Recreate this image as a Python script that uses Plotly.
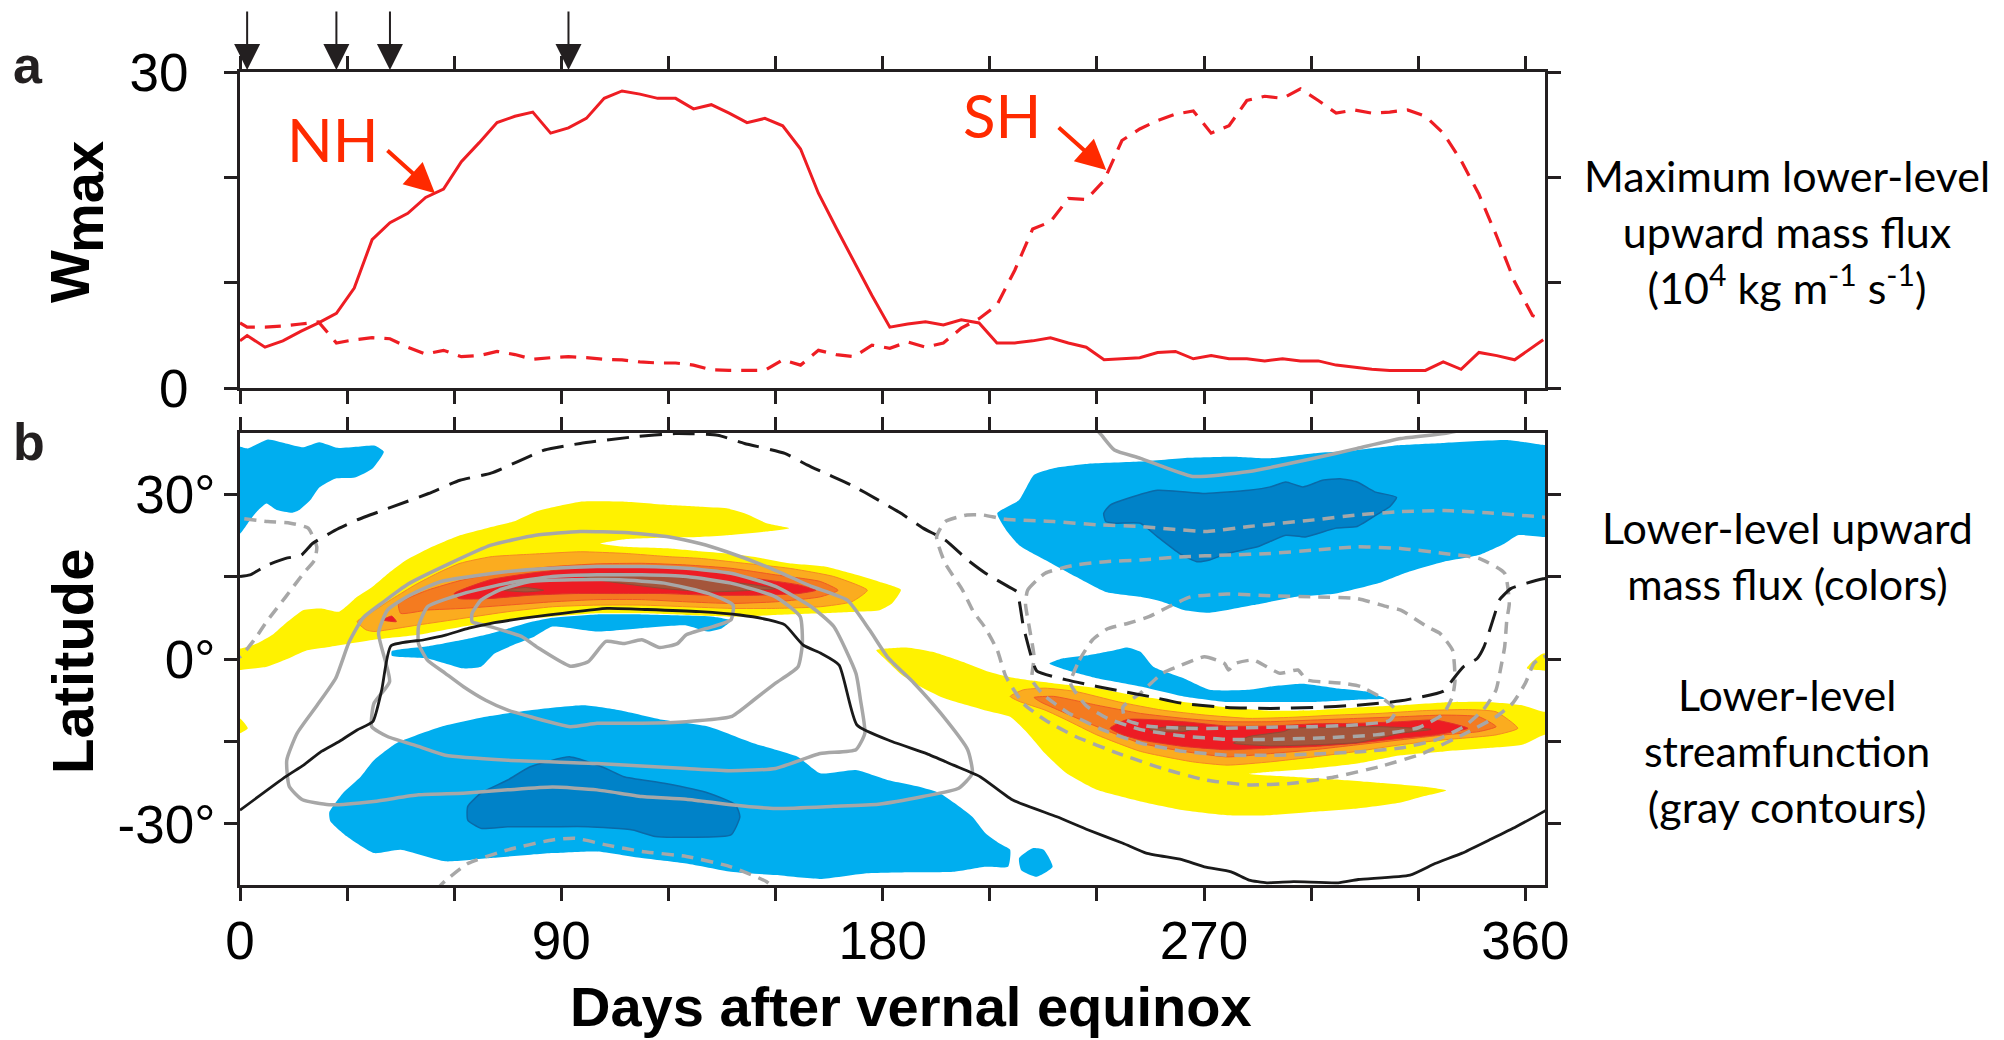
import plotly.graph_objects as go

# ---------------- Panel a: pentad W_max series ----------------
DAYS = [0, 2, 7, 12, 17, 22, 27, 32, 37, 42, 47, 52, 57, 62, 67, 72, 77, 82, 87, 92, 97,
        102, 107, 112, 117, 122, 127, 132, 137, 142, 147, 152, 157, 162, 167, 172, 177,
        182, 187, 192, 197, 202, 207, 212, 217, 222, 227, 232, 237, 242, 247, 252, 257,
        262, 267, 272, 277, 282, 287, 292, 297, 302, 307, 312, 317, 322, 327, 332, 337,
        342, 347, 352, 357, 362, 365]

NH_WMAX = [4.5, 5.0, 3.9, 4.5, 5.4, 6.2, 7.1, 9.5, 14.1, 15.7, 16.6,
           18.1, 18.9, 21.5, 23.3, 25.2, 25.8, 26.2, 24.2, 24.7, 25.6,
           27.5, 28.2, 27.9, 27.5, 27.5, 26.5, 26.9, 26.1, 25.2, 25.6,
           24.9, 22.7, 18.5, 15.2, 12.0, 8.8, 5.8, 6.1, 6.3, 6.0,
           6.5, 6.2, 4.3, 4.3, 4.5, 4.8, 4.3, 3.9, 2.7, 2.8,
           2.9, 3.4, 3.5, 2.8, 3.1, 2.8, 2.8, 2.6, 2.8, 2.6,
           2.6, 2.2, 2.0, 1.8, 1.7, 1.7, 1.7, 2.5, 1.8, 3.4,
           3.1, 2.7, 3.9, 4.6]

SH_WMAX = [6.2, 5.8, 5.8, 5.9, 6.1, 6.3, 4.3, 4.6, 4.8, 4.7, 3.9,
           3.25, 3.6, 3.0, 3.1, 3.5, 3.2, 2.75, 2.9, 3.0, 2.9,
           2.75, 2.7, 2.5, 2.4, 2.4, 2.2, 1.75, 1.7, 1.7, 1.7,
           2.7, 2.2, 3.6, 3.2, 3.0, 4.1, 3.8, 4.4, 3.9, 4.3,
           5.7, 6.6, 7.9, 11.2, 15.1, 15.8, 18.0, 17.9, 19.7, 23.5,
           24.6, 25.4, 26.0, 26.3, 24.2, 24.9, 27.3, 27.7, 27.5, 28.4,
           27.3, 26.1, 26.4, 26.1, 26.2, 26.4, 25.8, 24.2, 21.6, 18.4,
           14.4, 10.1, 6.9, 6.5]

ARROW_DAYS = [2, 27, 42, 92]

X_TICKS = [0, 30, 60, 90, 120, 150, 180, 210, 240, 270, 300, 330, 360]
X_TICKTEXT = ['0', '', '', '90', '', '', '180', '', '', '270', '', '', '360']
YA_TICKS = [0, 10, 20, 30]
YA_TICKTEXT = ['0', '', '', '30']
YB_TICKS = [-30, -15, 0, 15, 30]
YB_TICKTEXT = ['-30°', '', '0°', '', '30°']

# ---------------- Panel b: contour regions (day, latitude) ----------------
LIGHT_BLUE = [
    [(-2, 38.6), (0, 38.6), (2.2, 38.3), (7.8, 39.9), (12.8, 39.2), (17.8, 38.5), (22.2, 39.4),
     (27.2, 38.4), (32.8, 38.6), (37.8, 38.8), (40.3, 37.7), (37.2, 34.7), (32.2, 33.0),
     (26.6, 32.8), (22.2, 31.2), (19.7, 28.9), (16.6, 27.1), (14.7, 26.6), (10.3, 27.1),
     (7.4, 28.3), (4.7, 26.8), (2.2, 24.7), (0, 22.8), (-2, 22.8)],
    [(212.1, 26.5), (218.2, 28.9), (222.4, 33.5), (227.9, 34.7), (237.6, 35.5), (252.2, 35.9),
     (265.8, 36.6), (278.3, 36.8), (288.6, 36.5), (300.8, 37.4), (312.9, 38.0), (325.1, 38.9),
     (337.2, 39.3), (355.4, 39.8), (365.2, 38.9), (368, 38.9), (368, 22.2), (365.2, 22.2),
     (357.9, 22.5), (354.2, 21.0), (347.0, 18.9), (337.2, 17.7), (327.5, 15.9), (319.0, 13.8),
     (306.9, 11.9), (295.9, 11.3), (283.8, 9.8), (271.6, 8.4), (264.3, 8.9), (258.3, 10.4),
     (252.2, 11.3), (242.5, 12.2), (234.0, 15.0), (225.5, 18.0), (218.2, 20.7), (214.5, 23.5)],
    [(42.5, 1.4), (52.5, 2.3), (62.5, 3.5), (70, 4.6), (75, 5.5), (82, 6.8), (87.5, 7.5),
     (100, 8.1), (112.5, 8.1), (125, 7.9), (132.5, 7.7), (137.5, 7.0), (135, 5.6), (131, 5.0),
     (125, 6.1), (112.5, 5.6), (100, 5.0), (87.5, 5.9), (82.5, 4.1), (77.5, 2.8), (71.3, 1.0),
     (67.5, -1.4), (62.5, -1.7), (57.5, -0.8), (52.5, 0.1), (42.5, 0.6)],
    [(25, -27.9), (28.8, -24.4), (33.8, -21.4), (37.5, -18.4), (43.8, -15.3), (56.3, -12.3),
     (68.8, -10.5), (81.3, -9.3), (96.3, -8.4), (106.3, -9.3), (118.8, -11.1), (131.3, -12.3),
     (143.8, -15.3), (150, -16.5), (156.3, -17.8), (162.5, -20.8), (172.5, -20.2),
     (181.3, -22.0), (190, -23.2), (196, -24.4), (200.1, -26.2), (205.1, -28.7),
     (208.8, -31.7), (212.6, -33.5), (215.7, -34.7), (215.1, -37.8), (208.8, -37.8),
     (200.1, -38.7), (188, -38.8), (175, -39.0), (162.5, -40.0), (150, -39.3), (137.5, -38.7),
     (125, -37.2), (112.5, -36.2), (100, -35.0), (87.5, -35.3), (70, -36.2), (57.5, -36.8),
     (45, -34.7), (37.5, -35.3), (30, -32.3), (25.3, -29.5)],
    [(218.2, -36.2), (222, -34.4), (225.1, -34.7), (227.6, -37.8), (223.2, -39.6), (218.8, -38.4)],
    [(226.7, -0.8), (230.3, 0.1), (237.6, 0.7), (244.9, 1.6), (248.5, 2.1), (252.2, 1.3),
     (255.8, -1.4), (264.3, -3.5), (271.6, -5.6), (282.6, -5.6), (288.6, -5.0), (297.7, -4.5),
     (306.9, -5.3), (315.4, -5.9), (320.8, -7.2), (312.9, -7.4), (300.8, -7.8), (288.6, -7.8),
     (276.5, -7.8), (264.3, -6.8), (252.2, -5.0), (240.0, -3.5), (231.5, -2.0)],
]

DARK_BLUE = [
    [(63.8, -26.8), (67.5, -24.4), (75, -22.0), (81.3, -19.6), (92.5, -17.8), (102.5, -19.9),
     (107.5, -21.4), (118.8, -22.6), (131.3, -24.4), (138.8, -26.5), (140, -28.7),
     (137.5, -32.0), (125, -32.4), (116.3, -32.3), (110, -31.1), (97.5, -30.5), (87.5, -30.5),
     (75, -30.5), (67.5, -30.8), (63.8, -29.3)],
    [(241.9, 26.5), (243.7, 28.0), (248.5, 29.2), (257.0, 30.7), (270.4, 30.1), (282.6, 30.7),
     (288.6, 31.3), (292.9, 32.2), (297.7, 31.3), (303.2, 32.5), (308.1, 32.8), (312.9, 32.2),
     (317.8, 30.4), (323.9, 29.4), (322.0, 27.7), (319.0, 26.5), (312.9, 24.1), (306.9, 23.8),
     (298.4, 22.2), (292.9, 22.5), (285.0, 20.4), (276.5, 19.2), (271.6, 18.0), (268.0, 17.7),
     (263.1, 19.2), (257.0, 22.2), (252.2, 24.7), (244.9, 24.7), (242.5, 25.0)],
]

YELLOW = [
    [(-2, 1.9), (0, 1.9), (4.7, 2.8), (9.1, 4.4), (12.8, 6.5), (17.8, 8.9), (22.8, 9.2),
     (27.8, 8.6), (32.8, 11.3), (37.2, 13.2), (41.6, 15.6), (46.6, 18.0), (52.8, 20.1),
     (61.6, 22.5), (69.1, 23.8), (76.6, 25.0), (82.8, 26.8), (95.3, 28.6), (107.8, 28.6),
     (120.3, 28.0), (128.8, 27.7), (136.3, 27.4), (142.5, 26.2), (147.5, 24.7), (153.8, 23.8),
     (147.5, 23.2), (136.3, 22.5), (128.8, 22.2), (120.3, 22.1), (107.8, 21.8), (100.9, 21.0),
     (107.8, 20.4), (120.3, 20.1), (128.8, 19.6), (136.3, 19.2), (143.8, 18.6), (153.8, 17.4),
     (163.8, 16.8), (172.6, 15.3), (178.8, 14.1), (185.1, 12.6), (182.6, 10.1), (178.8, 8.8),
     (172.5, 8.6), (162.5, 8.3), (150, 8.0), (137.5, 7.7), (125, 8.0), (112.5, 8.3),
     (100, 8.3), (87.5, 7.7), (75, 7.1), (62.5, 5.9), (50, 4.4), (37.5, 3.5), (25, 2.2),
     (18.8, 1.6), (12.5, -0.2), (7.5, -1.4), (0, -2.0), (-2, -2.0)],
    [(178.2, 1.6), (179.3, 1.8), (186.6, 2.1), (193.9, 1.3), (203.6, -0.8), (209.7, -2.3),
     (215.7, -3.3), (221.8, -3.9), (231.5, -4.7), (240.0, -5.3), (252.2, -6.8), (264.3, -7.8),
     (276.5, -8.8), (288.6, -9.4), (300.8, -9.3), (312.9, -8.8), (325.1, -8.4), (337.2, -7.9),
     (349.4, -7.8), (359.1, -8.4), (365.2, -9.6), (368, -9.6), (368, -13.8), (365.2, -13.8),
     (359.1, -15.6), (349.4, -16.2), (337.2, -16.8), (325.1, -17.5), (312.9, -19.0),
     (300.8, -19.9), (288.6, -20.5), (282.6, -20.9), (294.7, -21.4), (306.9, -21.9),
     (319.0, -22.5), (331.2, -23.2), (337.8, -23.9), (331.2, -25.0), (325.1, -26.1),
     (312.9, -27.2), (300.8, -27.8), (288.6, -28.4), (276.5, -28.4), (264.3, -27.5),
     (252.2, -25.9), (240.0, -23.8), (231.5, -20.8), (225.5, -17.2), (220.6, -13.5),
     (215.7, -10.5), (208.5, -9.3), (197.5, -7.2), (191.4, -5.3), (185.4, -2.9), (180.5, 0.1)],
    [(-2, -10.8), (0, -10.8), (2.2, -12.6), (0, -13.5), (-2, -13.5)],
    [(368, 1.0), (364.9, 1.0), (362.4, -0.2), (360.4, -1.7), (364.9, -2.1), (368, -2.1)],
]

LIGHT_ORANGE = [
    [(32.8, 6.8), (37.8, 8.9), (42.8, 11.0), (49.1, 13.5), (55.3, 15.6), (61.6, 17.4),
     (70.3, 18.6), (82.8, 19.1), (95.3, 19.5), (107.8, 19.2), (120.3, 18.6), (128.8, 18.3),
     (141.3, 17.4), (153.8, 16.5), (166.3, 15.0), (175.7, 12.5), (171.3, 10.4), (162.5, 9.5),
     (150, 9.2), (137.5, 9.2), (125, 9.5), (112.5, 9.8), (100, 9.8), (87.5, 9.5), (75, 8.6),
     (62.5, 7.4), (50, 6.2), (37.5, 5.0), (35.3, 5.3)],
    [(215.7, -6.8), (219.4, -5.6), (225.5, -5.3), (234.0, -5.9), (246.1, -7.8), (258.3, -9.3),
     (270.4, -10.2), (282.6, -10.8), (294.7, -10.6), (306.9, -10.2), (319.0, -9.9),
     (331.2, -9.4), (343.3, -9.2), (351.8, -9.6), (357.9, -12.6), (351.8, -13.8),
     (337.2, -14.7), (325.1, -15.6), (312.9, -16.8), (300.8, -17.8), (288.6, -18.7),
     (276.5, -19.3), (266.8, -18.7), (252.2, -16.8), (240.0, -13.8), (231.5, -11.1),
     (225.5, -9.3), (218.2, -7.7)],
]

ORANGE = [
    [(44.4, 10.1), (52.5, 12.5), (62.5, 14.4), (75, 15.9), (87.5, 16.8), (100, 17.3),
     (112.5, 17.4), (125, 17.1), (137.5, 16.5), (150, 15.3), (162.5, 14.1), (167.5, 12.5),
     (162.5, 11.3), (150, 10.4), (137.5, 10.1), (125, 10.4), (112.5, 10.8), (100, 10.8),
     (87.5, 10.4), (75, 9.8), (62.5, 9.2), (52.5, 8.9), (45, 8.3)],
    [(222.4, -7.0), (227.9, -6.8), (240.0, -8.4), (252.2, -9.9), (264.3, -10.8), (276.5, -11.4),
     (288.6, -11.4), (300.8, -11.1), (312.9, -10.8), (325.1, -10.5), (337.2, -10.2),
     (347.0, -10.5), (351.8, -12.3), (347.0, -13.2), (337.2, -13.8), (325.1, -14.7),
     (312.9, -15.6), (300.8, -16.5), (288.6, -17.2), (276.5, -17.8), (264.3, -16.8),
     (252.2, -15.3), (240.0, -12.3), (230.3, -9.6), (224.2, -7.8)],
]

RED = [
    [(60, 11.9), (70, 14.4), (81.3, 15.6), (93.8, 16.5), (106.3, 16.8), (118.8, 16.5),
     (131.3, 15.9), (143.8, 14.7), (156.3, 13.5), (161.3, 12.5), (156.3, 11.9), (143.8, 11.6),
     (131.3, 11.6), (118.8, 11.9), (106.3, 11.9), (93.8, 11.9), (81.3, 11.6), (70, 11.0),
     (61.3, 11.0)],
    [(40, 7.1), (42.5, 7.8), (43.8, 6.8)],
    [(243.7, -12.6), (248.5, -11.0), (264.3, -11.4), (276.5, -12.2), (288.6, -12.2),
     (300.8, -11.8), (312.9, -11.7), (325.1, -11.4), (334.8, -11.1), (343.9, -12.6),
     (334.8, -13.8), (325.1, -14.4), (312.9, -15.3), (300.8, -15.9), (288.6, -16.2),
     (276.5, -16.5), (264.3, -15.9), (252.2, -14.7), (247.3, -13.8)],
]

BROWN = [
    [(95, 15.3), (106.3, 15.6), (118.8, 15.0), (131.3, 14.4), (143.8, 13.5), (150, 12.8),
     (143.8, 12.5), (131.3, 12.2), (118.8, 12.8), (106.3, 13.8), (97.5, 14.7)],
    [(73.8, 12.5), (80, 13.0), (85, 12.5), (80, 12.2)],
    [(278.3, -15.3), (282.6, -14.1), (292.3, -13.2), (294.7, -12.6), (306.9, -12.4),
     (319.0, -12.3), (333.6, -12.8), (325.1, -13.5), (319.0, -14.4), (312.9, -15.2),
     (300.8, -15.6), (288.6, -15.8)],
    [(254.6, -12.8), (261.9, -12.2), (268.6, -12.4), (264.3, -13.2), (257.0, -13.2)],
]

# ---------------- Panel b: contour lines (day, latitude) ----------------
BLACK_SOLID = [(0, -27.5), (12.8, -21.4), (17.8, -19.3), (22.8, -16.8), (27.8, -15.0),
               (32.8, -12.9), (37.2, -11.4), (39.7, -5.6), (42.3, 2.4), (51.6, 3.5), (57.8, 4.4),
               (64.1, 5.6), (70.3, 6.5), (82.8, 7.7), (90.3, 8.3), (102.8, 9.2), (114.0, 9.0),
               (128.8, 8.6), (140, 8.0), (148.1, 7.1), (152.6, 6.2), (157.8, 2.5), (162.8, 1.0),
               (167.8, -1.1), (172.8, -12.0), (182.6, -15.0), (192.3, -17.2), (199.8, -19.3),
               (207.3, -21.4), (216.3, -25.6), (228.8, -28.7), (237.6, -31.1), (247.3, -33.5),
               (253.8, -35.3), (263.8, -36.5), (270.1, -37.8), (277.6, -38.7), (282.6, -40.2),
               (287.6, -40.7), (295.1, -40.5), (307.6, -40.7), (313.2, -40.1), (327.7, -39.3),
               (334.7, -37.2), (342.3, -35.3), (349.9, -32.9), (357.4, -30.5), (365, -27.8),
               (367, -27.0)]

BLACK_DASHED = [(0, 15.0), (2.8, 15.3), (7.8, 17.1), (12.8, 18.3), (17.2, 18.9), (20.3, 21.0),
                (27.8, 23.8), (32.8, 25.3), (42.8, 27.7), (52.8, 30.1), (61.6, 32.5),
                (70.3, 33.8), (77.8, 35.9), (85.3, 38.0), (95.3, 39.2), (110.3, 40.4),
                (122, 41.0), (133.8, 40.7), (141.3, 39.2), (152.6, 37.4), (158.8, 35.3),
                (163.8, 33.8), (171.3, 31.6), (178.8, 28.9), (185.1, 26.5), (191.3, 23.8),
                (197.6, 21.6), (203.8, 18.0), (208.8, 15.6), (215.1, 13.2), (217.6, 12.2),
                (219.4, 5.9), (221.9, -0.2), (223.2, -2.2), (231.5, -3.8), (240.0, -5.0),
                (247.3, -5.9), (254.6, -6.8), (264.3, -8.1), (276.5, -8.8), (288.6, -9.0),
                (300.8, -8.8), (312.9, -8.4), (325.1, -7.6), (337.2, -5.8), (339.6, -3.8),
                (342.7, -1.4), (346.5, 0.1), (348.4, 2.2), (351.5, 8.3), (352.7, 10.7),
                (355.9, 12.8), (360.4, 13.8), (365, 14.6), (367, 14.8)]

GRAY_SOLID = [
    [(65, 6.8), (70, 5.9), (78.8, 4.1), (83.8, 1.9), (92.5, -1.3), (97.5, -0.5), (102.5, 3.2),
     (107.5, 2.8), (112.5, 3.5), (117.5, 2.1), (122.5, 2.8), (125, 4.4), (132.5, 5.9),
     (137.5, 7.1), (138.1, 9.8), (131.3, 11.9), (118.8, 13.8), (106.3, 14.4), (93.8, 14.4),
     (81.3, 14.1), (72.5, 12.5), (67.5, 10.7), (65, 8.3), (65, 6.8)],
    [(52.5, 9.5), (62.5, 11.9), (75, 13.8), (87.5, 15.0), (100, 15.3), (112.5, 15.3),
     (125, 15.0), (137.5, 13.8), (150, 11.3), (156.9, 7.7), (157.5, 2.8), (156.3, -1.4),
     (150, -4.4), (143.8, -7.5), (137.5, -10.5), (125, -11.4), (112.5, -11.7), (100, -11.7),
     (92.5, -12.3), (81.3, -10.5), (75, -9.3), (68.8, -7.5), (62.5, -5.0), (57.5, -2.6),
     (52.5, -0.2), (50, 2.8), (50, 5.9), (52.5, 9.5)],
    [(36.9, -12.3), (41.3, -14.1), (50, -15.9), (57.5, -17.5), (75, -18.4), (100, -19.0),
     (125, -19.9), (137.5, -20.3), (150, -19.9), (162.5, -17.2), (172.5, -16.5), (175, -13.5),
     (173.8, -7.5), (172.5, -2.6), (166.3, 5.9), (160, 9.5), (150, 13.2), (137.5, 15.6),
     (125, 16.5), (112.5, 16.8), (100, 16.8), (87.5, 16.5), (75, 15.9), (56.3, 14.1),
     (47.5, 11.6), (41.3, 8.9), (38.8, 4.7), (41.9, -4.1), (37.5, -8.1), (36.9, -12.3)],
    [(128.8, 21.0), (136.3, 19.5), (147.5, 16.8), (160.1, 13.2), (170.1, 10.7), (176.3, 5.3),
     (181.3, 0.4), (188.8, -4.4), (196.3, -9.9), (203.8, -16.5), (205.1, -20.8),
     (201.3, -23.5), (191.3, -25.0), (178.8, -26.4), (166.3, -26.8), (150, -27.2),
     (137.5, -26.5), (125, -25.5), (112.5, -25.0), (100, -23.8), (87.5, -23.3), (75, -23.8),
     (62.5, -24.4), (50, -24.7), (37.5, -25.9), (25, -26.5), (17.5, -25.6), (13.8, -23.2),
     (13.1, -18.4), (16, -13.5), (21.5, -8.5), (26.8, -3.5), (30.5, 3.0), (34.5, 7.5),
     (40, 10.3), (47, 13.6), (58.5, 17.3), (70.3, 20.7), (82.8, 22.5), (95.3, 23.2),
     (107.8, 23.0), (120.3, 22.2), (128.8, 21.0)],
    [(239.5, 42), (241.3, 40.7), (244.9, 38.0), (252.2, 36.5), (266.8, 33.2), (282.6, 34.1),
     (300.8, 36.5), (312.9, 38.3), (325.1, 40.1), (337.2, 41.0), (345, 42)],
]

GRAY_DASHED = [
    [(368, 25.7), (365.2, 25.8), (349.4, 26.6), (337.2, 27.0), (325.1, 26.8), (312.9, 26.2),
     (300.8, 25.3), (282.6, 24.1), (270.4, 23.2), (252.2, 24.1), (240.0, 24.4), (227.9, 25.0),
     (214.5, 25.4), (208, 26.2), (203.6, 26.2), (197.5, 25.0), (195.1, 22.2), (197.5, 17.4),
     (202.4, 12.5), (205.5, 8.5), (208.5, 5.9), (212.1, 1.6), (214.5, -3.2), (219.4, -8.1),
     (225.5, -11.1), (234.0, -14.1), (246.1, -17.2), (258.3, -19.9), (270.4, -22.0),
     (282.6, -22.9), (294.7, -22.6), (306.9, -21.4), (319.0, -19.6), (331.2, -17.2),
     (343.3, -13.5), (351.8, -10.5), (356.5, -8.0), (360, -4.4), (362.4, -0.8), (365, 0.4),
     (368, 0.5)],
    [(-3, 0.3), (0, 0.4), (4.0, 3.5), (7.8, 7.1), (12.8, 11.3), (17.8, 15.6), (20.9, 18.0),
     (21.5, 20.4), (19.1, 23.8), (14.1, 24.7), (7.8, 25.0), (0, 25.6), (-3, 25.7)],
    [(220, 10), (220.6, 12.5), (225.5, 15.6), (234.0, 17.1), (242.5, 17.7), (252.2, 18.0),
     (264.3, 18.6), (276.5, 18.9), (288.6, 19.2), (300.8, 19.8), (312.9, 20.4), (325.1, 20.1),
     (337.2, 19.2), (347.0, 18.3), (354.2, 15.6), (355.5, 10.1), (354.8, 7.1), (354.2, 2.2),
     (353.0, -2.0), (351.8, -5.6), (348.5, -9.0), (343, -12.2), (335, -14.7), (325, -16.2),
     (312.9, -16.9), (300.8, -17.3), (288.6, -17.5), (276.5, -17.5), (264.3, -16.8),
     (252.2, -15.3), (242, -13.0), (232, -9.8), (225, -6.5), (221.8, -3.8), (222.4, 0.4),
     (221, 6), (220, 10)],
    [(232.6, -4.4), (235.1, -0.2), (238.8, 3.5), (243, 5.5), (248.8, 6.5), (254.6, 7.7),
     (260.1, 9.5), (266.3, 11.3), (276.5, 11.8), (288.6, 11.5), (300.8, 11.3), (312.9, 11.0),
     (321.3, 9.5), (325.1, 8.9), (332.4, 5.9), (336, 4.7), (339.6, 1.6), (340.3, -3.8),
     (339.6, -6.8), (337, -10.0), (330, -12.5), (318, -13.8), (305, -14.3), (290, -14.6),
     (276, -14.6), (264, -14.0), (252, -12.8), (243, -10.8), (237, -8.5), (232.6, -4.4)],
    [(262.6, -1.4), (270.1, 0.4), (275.7, -0.8), (276.9, -2.0), (278.8, -0.8), (283.8, -0.2),
     (291.3, -2.6), (296.3, -2.0), (298.8, -3.8), (308.8, -4.4), (313.8, -5.0), (320.1, -7.2),
     (323.8, -9.3), (322, -11.2), (312, -12.0), (300, -12.3), (288, -12.4), (276, -12.6),
     (264, -12.6), (254, -12.2), (248, -11.0), (247.3, -8.7), (252.2, -6.2), (258.3, -2.6),
     (262.6, -1.4)],
    [(55, -42), (56.9, -40.7), (63.8, -37.2), (75, -34.7), (87.5, -32.9), (93.8, -32.6),
     (102.5, -33.8), (112.5, -35.0), (125, -35.9), (137.5, -37.8), (147.5, -40.5), (150, -42)],
]

# ---------------- styling ----------------
W, H = 2004, 1040
PLOT_L, PLOT_R = 240, 1545
A_TOP, A_BOT = 72, 388.3
B_TOP, B_BOT = 433, 885


def px(xp):
    return xp / W


def py(yp):
    return 1 - yp / H


AXIS_COLOR = '#231f20'
RED_LINE = '#ee1d23'
RED_TEXT = '#ff2a00'
TICK_FONT = dict(family='Liberation Sans, Arial, sans-serif', size=53, color='black')
LABEL_FONT = 'Liberation Sans, Arial, sans-serif'
SIDE_FONT = 'Lato, Open Sans, sans-serif'

C_LBLUE = '#00aeef'
C_DBLUE = '#0082c8'
C_YELLOW = '#fff200'
C_LORANGE = '#fbac1f'
C_ORANGE = '#f47b20'
C_RED = '#ed1c24'
C_BROWN = '#a4553b'
C_GRAY = '#a7a7a7'

fig = go.Figure()

# Panel a lines
fig.add_trace(go.Scatter(x=DAYS, y=NH_WMAX, mode='lines', xaxis='x', yaxis='y',
                         line=dict(color=RED_LINE, width=3), hoverinfo='skip'))
fig.add_trace(go.Scatter(x=DAYS, y=SH_WMAX, mode='lines', xaxis='x', yaxis='y',
                         line=dict(color=RED_LINE, width=3.2, dash='16px,10px'),
                         hoverinfo='skip'))


def add_poly(pts, fill, edge=None, lw=0):
    xs = [p[0] for p in pts] + [pts[0][0]]
    ys = [p[1] for p in pts] + [pts[0][1]]
    fig.add_trace(go.Scatter(x=xs, y=ys, mode='lines', fill='toself', fillcolor=fill,
                             line=dict(color=edge or fill, width=lw, shape='spline',
                                       smoothing=0.5),
                             xaxis='x2', yaxis='y2', hoverinfo='skip'))


def add_line(pts, color, width, dash=None):
    fig.add_trace(go.Scatter(x=[p[0] for p in pts], y=[p[1] for p in pts], mode='lines',
                             line=dict(color=color, width=width, dash=dash, shape='spline',
                                       smoothing=0.5),
                             xaxis='x2', yaxis='y2', hoverinfo='skip'))


for poly in LIGHT_BLUE:
    add_poly(poly, C_LBLUE)
for poly in DARK_BLUE:
    add_poly(poly, C_DBLUE, '#0a6aa8', 1.5)
for poly in YELLOW:
    add_poly(poly, C_YELLOW)
for poly in LIGHT_ORANGE:
    add_poly(poly, C_LORANGE, '#f58a22', 1)
for poly in ORANGE:
    add_poly(poly, C_ORANGE, '#ef5a24', 1)
for poly in RED:
    add_poly(poly, C_RED, '#e0312a', 1)
for poly in BROWN:
    add_poly(poly, C_BROWN, '#8f4a35', 1)

for ln in GRAY_SOLID:
    add_line(ln, C_GRAY, 3.5)
for ln in GRAY_DASHED:
    add_line(ln, C_GRAY, 3.5, '12px,8px')
add_line(BLACK_SOLID, '#1a1a1a', 2.8)
add_line(BLACK_DASHED, '#1a1a1a', 3, '22px,11px')

axis_common = dict(showline=True, linewidth=3, linecolor=AXIS_COLOR, mirror='ticks',
                   ticks='outside', ticklen=13, tickwidth=3, tickcolor=AXIS_COLOR,
                   showgrid=False, zeroline=False, tickfont=TICK_FONT, automargin=False)

fig.update_layout(
    width=W, height=H, margin=dict(l=0, r=0, t=0, b=0, pad=0, autoexpand=False),
    paper_bgcolor='white', plot_bgcolor='white', showlegend=False,
    xaxis=dict(domain=[px(PLOT_L), px(PLOT_R)], anchor='y', range=[0, 365.5],
               tickvals=X_TICKS, showticklabels=False, **axis_common),
    yaxis=dict(domain=[py(A_BOT), py(A_TOP)], anchor='x', range=[0, 30],
               tickvals=YA_TICKS, ticktext=YA_TICKTEXT, ticklabelstandoff=25, **axis_common),
    xaxis2=dict(domain=[px(PLOT_L), px(PLOT_R)], anchor='y2', range=[0, 365.5],
                tickvals=X_TICKS, ticktext=X_TICKTEXT, ticklabelstandoff=-6, **axis_common),
    yaxis2=dict(domain=[py(B_BOT), py(B_TOP)], anchor='x2', range=[-41.1, 41.1],
                tickvals=YB_TICKS, ticktext=YB_TICKTEXT, ticklabelstandoff=-2, **axis_common),
)

ann = []
# panel letters
ann.append(dict(text='<b>a</b>', x=px(28), y=py(65), xref='paper', yref='paper',
                showarrow=False, font=dict(family=LABEL_FONT, size=52, color='#231f20'),
                xanchor='center', yanchor='middle'))
ann.append(dict(text='<b>b</b>', x=px(29), y=py(442), xref='paper', yref='paper',
                showarrow=False, font=dict(family=LABEL_FONT, size=52, color='#231f20'),
                xanchor='center', yanchor='middle'))
# y titles
ann.append(dict(text='<b>W</b>', x=px(70), y=py(277), xref='paper', yref='paper',
                showarrow=False, textangle=-90, font=dict(family=LABEL_FONT, size=56, color='black'),
                xanchor='center', yanchor='middle'))
ann.append(dict(text='<b>max</b>', x=px(83), y=py(197), xref='paper', yref='paper',
                showarrow=False, textangle=-90, font=dict(family=LABEL_FONT, size=56, color='black'),
                xanchor='center', yanchor='middle'))
ann.append(dict(text='<b>Latitude</b>', x=px(72), y=py(661), xref='paper', yref='paper',
                showarrow=False, textangle=-90, font=dict(family=LABEL_FONT, size=58, color='black'),
                xanchor='center', yanchor='middle'))
ann.append(dict(text='<b>Days after vernal equinox</b>', x=px(911), y=py(1006), xref='paper',
                yref='paper', showarrow=False,
                font=dict(family=LABEL_FONT, size=56, color='black'),
                xanchor='center', yanchor='middle'))
# side descriptions
ann.append(dict(text='Maximum lower-level<br>upward mass flux<br>(10<sup>4</sup> kg m<sup>-1</sup> s<sup>-1</sup>)',
                x=px(1787), y=py(231), xref='paper', yref='paper', showarrow=False,
                font=dict(family=SIDE_FONT, size=43, color='black'), align='center',
                xanchor='center', yanchor='middle'))
ann.append(dict(text='Lower-level upward<br>mass flux (colors)',
                x=px(1787), y=py(555), xref='paper', yref='paper', showarrow=False,
                font=dict(family=SIDE_FONT, size=43, color='black'), align='center',
                xanchor='center', yanchor='middle'))
ann.append(dict(text='Lower-level<br>streamfunction<br>(gray contours)',
                x=px(1787), y=py(750), xref='paper', yref='paper', showarrow=False,
                font=dict(family=SIDE_FONT, size=43, color='black'), align='center',
                xanchor='center', yanchor='middle'))
# NH / SH labels and arrows
ann.append(dict(text='NH', x=26.0, y=23.6, xref='x', yref='y', showarrow=False,
                font=dict(family=SIDE_FONT, size=60, color=RED_TEXT),
                xanchor='center', yanchor='middle'))
ann.append(dict(text='SH', x=213.4, y=25.9, xref='x', yref='y', showarrow=False,
                font=dict(family=SIDE_FONT, size=60, color=RED_TEXT),
                xanchor='center', yanchor='middle'))
ann.append(dict(text='', x=54.6, y=18.5, xref='x', yref='y', showarrow=True, ax=-49, ay=-44,
                arrowhead=2, arrowsize=1.5, arrowwidth=4, arrowcolor=RED_TEXT))
ann.append(dict(text='', x=242.6, y=20.7, xref='x', yref='y', showarrow=True, ax=-49, ay=-44,
                arrowhead=2, arrowsize=1.5, arrowwidth=4, arrowcolor=RED_TEXT))
# black arrows marking selected days
for d in ARROW_DAYS:
    ann.append(dict(text='', x=d, y=py(70), xref='x', yref='paper', showarrow=True,
                    ax=0, ay=-60, arrowhead=2, arrowsize=2.6, arrowwidth=2,
                    arrowcolor='#231f20'))

fig.update_layout(annotations=ann)
fig.write_html('out.html')
